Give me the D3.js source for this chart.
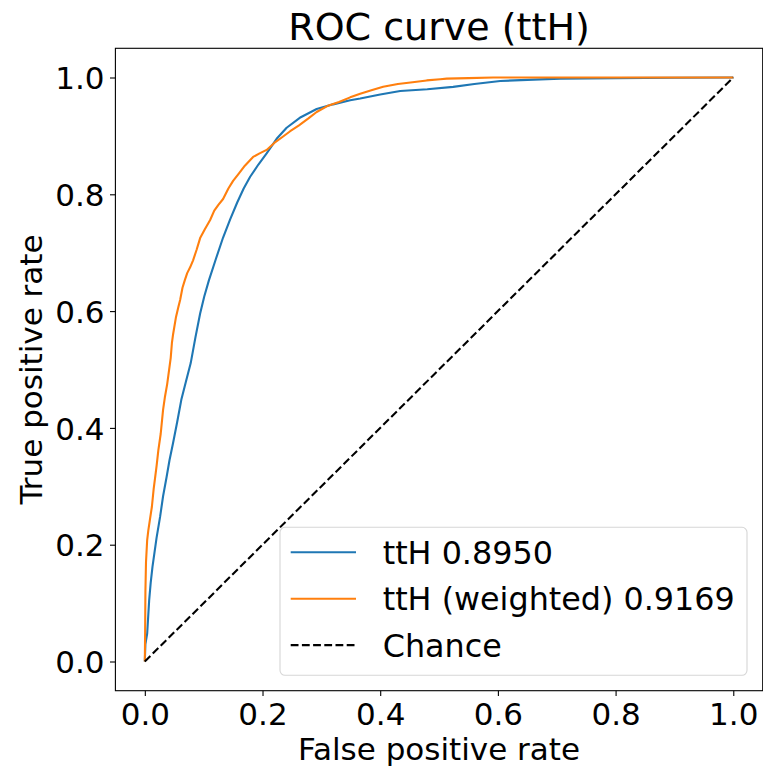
<!DOCTYPE html>
<html>
<head>
<meta charset="utf-8">
<script src="https://cdn.jsdelivr.net/npm/d3@7"></script>
<style>
  body { margin: 0; background: #fff; }
  svg { display: block; font-family: "DejaVu Sans", sans-serif; }
</style>
</head>
<body>
<svg id="chart"></svg>
<script>
var width = 763,
    height = 768;

// ROC points: [false positive rate, true positive rate]
var rocTtH = [
  [0,0],[0.001,0.03],[0.004,0.048],[0.0074,0.105],[0.010,0.135],[0.013,0.162],[0.020,0.212],
  [0.026,0.248],[0.031,0.283],[0.037,0.316],[0.042,0.345],[0.048,0.374],[0.055,0.41],
  [0.062,0.448],[0.070,0.48],[0.078,0.511],[0.086,0.555],[0.094,0.596],[0.101,0.625],
  [0.109,0.653],[0.121,0.69],[0.133,0.726],[0.145,0.757],[0.157,0.786],[0.168,0.81],
  [0.179,0.83],[0.193,0.851],[0.207,0.870],[0.224,0.895],[0.241,0.914],[0.265,0.932],
  [0.292,0.946],[0.320,0.954],[0.349,0.961],[0.366,0.964],[0.400,0.971],[0.434,0.977],
  [0.480,0.980],[0.524,0.984],[0.560,0.989],[0.604,0.994],[0.650,0.996],[0.706,0.998],
  [0.800,0.999],[0.900,0.9995],[1,1]
];
var rocTtHWeighted = [
  [0,0],[0.0005,0.05],[0.001,0.12],[0.002,0.17],[0.004,0.208],[0.006,0.225],[0.009,0.245],
  [0.012,0.265],[0.015,0.295],[0.017,0.311],[0.020,0.335],[0.023,0.362],[0.027,0.39],
  [0.031,0.431],[0.034,0.452],[0.038,0.475],[0.040,0.49],[0.044,0.52],[0.046,0.545],
  [0.048,0.56],[0.053,0.59],[0.057,0.607],[0.060,0.619],[0.064,0.64],[0.068,0.653],
  [0.072,0.665],[0.077,0.675],[0.082,0.687],[0.088,0.705],[0.094,0.725],[0.102,0.74],
  [0.111,0.756],[0.118,0.772],[0.125,0.782],[0.133,0.792],[0.142,0.81],[0.150,0.823],
  [0.160,0.836],[0.170,0.849],[0.184,0.864],[0.195,0.87],[0.207,0.876],[0.22,0.888],
  [0.235,0.899],[0.247,0.908],[0.262,0.918],[0.278,0.93],[0.292,0.941],[0.31,0.951],
  [0.33,0.958],[0.349,0.966],[0.366,0.972],[0.385,0.978],[0.405,0.984],[0.43,0.989],
  [0.455,0.992],[0.479,0.995],[0.502,0.997],[0.513,0.998],[0.55,0.999],[0.592,1.0],[1,1]
];
var chance = [[0,0],[1,1]];

var seriesNames = ["ttH 0.8950", "ttH (weighted) 0.9169", "Chance"];
var seriesColors = ["#1f77b4", "#ff7f0e", "#000000"];
var tickValues = [0, 0.2, 0.4, 0.6, 0.8, 1.0];

var margin = {left: 115.4, right: 0.3, top: 48.3, bottom: 77.3};
var x = d3.scaleLinear().domain([-0.05, 1.05]).range([margin.left, width - margin.right]);
var y = d3.scaleLinear().domain([-0.05, 1.05]).range([height - margin.bottom, margin.top]);

var svg = d3.select("#chart").attr("width", width).attr("height", height);

var line = d3.line()
    .x(function(d) { return x(d[0]); })
    .y(function(d) { return y(d[1]); });

var plot = svg.append("g");
plot.selectAll(".roc").data([rocTtH, rocTtHWeighted, chance])
    .enter()
    .append("path")
      .attr("d", line)
      .style("fill", "none")
      .style("stroke", function(d, i) { return seriesColors[i]; })
      .style("stroke-width", 2.1)
      .style("stroke-dasharray", function(d, i) { return i == 2 ? "7.8,3.4" : null; })
      .style("stroke-linejoin", "round");

// axes
var xAxis = svg.append("g")
    .attr("transform", "translate(0," + (height - margin.bottom) + ")")
    .call(d3.axisBottom(x).tickValues(tickValues).tickFormat(d3.format(".1f")).tickSizeOuter(0).tickSize(5.4).tickPadding(5.4));
var yAxis = svg.append("g")
    .attr("transform", "translate(" + margin.left + ",0)")
    .call(d3.axisLeft(y).tickValues(tickValues).tickFormat(d3.format(".1f")).tickSizeOuter(0).tickSize(5.4).tickPadding(5.4));
[xAxis, yAxis].forEach(function(a) {
  a.select(".domain").remove();
  a.selectAll("line").style("stroke", "#000").style("stroke-width", 1.1);
  a.selectAll("text").style("font-family", "DejaVu Sans").style("font-size", "31px").style("fill", "#000");
});
xAxis.selectAll("text").attr("dy", null).attr("y", 34.5);
yAxis.selectAll("text").attr("dy", "0.36em");

// frame
svg.append("rect")
    .attr("x", margin.left).attr("y", margin.top)
    .attr("width", width - margin.left - margin.right)
    .attr("height", height - margin.top - margin.bottom)
    .style("fill", "none").style("stroke", "#000").style("stroke-width", 1.1);

// labels
var cx = (margin.left + width - margin.right) / 2;
svg.append("text").attr("x", cx).attr("y", 39.5)
    .attr("text-anchor", "middle").style("font-size", "38px").text("ROC curve (ttH)");
svg.append("text").attr("x", cx).attr("y", 760)
    .attr("text-anchor", "middle").style("font-size", "31px").text("False positive rate");
svg.append("text")
    .attr("transform", "translate(41.7," + ((margin.top + height - margin.bottom) / 2) + ") rotate(-90)")
    .attr("text-anchor", "middle").style("font-size", "31px").text("True positive rate");

// legend
var legend = svg.append("g");
legend.append("rect")
    .attr("x", 280).attr("y", 527.3).attr("width", 467).attr("height", 148).attr("rx", 5)
    .style("fill", "#fff").style("fill-opacity", 0.8)
    .style("stroke", "#d6d6d6").style("stroke-width", 1.1);
var rows = legend.selectAll(".row").data(seriesNames).enter().append("g")
    .attr("transform", function(d, i) { return "translate(0," + (552.3 + i * 46.4) + ")"; });
rows.append("line")
    .attr("x1", 290.7).attr("x2", 356).attr("y1", 0).attr("y2", 0)
    .style("stroke", function(d, i) { return seriesColors[i]; })
    .style("stroke-width", 2.1)
    .style("stroke-dasharray", function(d, i) { return i == 2 ? "7.8,3.4" : null; });
rows.append("text")
    .attr("x", 382.7).attr("y", 11.7)
    .style("font-size", "31.8px")
    .text(function(d) { return d; });
</script>
</body>
</html>
